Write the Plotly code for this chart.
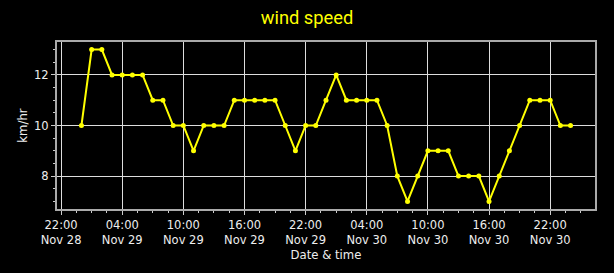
import plotly.graph_objects as go
import pandas as pd

start_time = "2023-11-29 00:00"
n_hours = 49
wind_kmh = [10, 13, 13, 12, 12, 12, 12, 11, 11, 10, 10, 9, 10, 10, 10, 11, 11, 11, 11, 11, 10, 9, 10, 10,
            11, 12, 11, 11, 11, 11, 10, 8, 7, 8, 9, 9, 9, 8, 8, 8, 7, 8, 9, 10, 11, 11, 11, 10, 10]
times = pd.date_range(start_time, periods=n_hours, freq="h")

x_range = ["2023-11-28 21:36", "2023-12-01 02:24"]
y_range = [6.7, 13.3]
title_text = "wind speed"
x_title = "Date & time"
y_title = "km/hr"

fig = go.Figure()
fig.add_trace(go.Scatter(
    x=times, y=wind_kmh, mode="lines+markers",
    line=dict(color="#ffff00", width=2),
    marker=dict(color="#ffff00", size=5),
    showlegend=False,
))

tickfont = dict(family="DejaVu Sans", size=11.5, color="#eeeeee")
fig.update_layout(
    width=614, height=273,
    paper_bgcolor="black", plot_bgcolor="black",
    margin=dict(l=57, r=19, t=42, b=64),
    title=dict(text=title_text, x=0.5, xanchor="center", y=0.935, yanchor="middle",
               font=dict(family="Roboto", size=18.3, color="#ffff00")),
)
fig.update_xaxes(
    range=x_range, type="date",
    tick0="2023-11-28 22:00", dtick=6 * 3600 * 1000,
    tickformat="%H:%M<br>%b %d",
    ticks="outside", ticklen=4, tickcolor="#cccccc", tickwidth=1,
    showgrid=True, gridcolor="#dddddd", gridwidth=1,
    showline=True, linecolor="#aaaaaa", linewidth=2, mirror=True,
    zeroline=False, tickfont=tickfont,
    minor=dict(tick0="2023-11-28 22:00", dtick=1.5 * 3600 * 1000, ticks="outside",
               ticklen=2, tickcolor="#cccccc", showgrid=False),
    title=dict(text=x_title, font=dict(family="DejaVu Sans", size=11.7, color="#eeeeee"), standoff=5),
)
fig.update_yaxes(
    range=y_range, tick0=0, dtick=2,
    ticks="outside", ticklen=4, tickcolor="#cccccc", tickwidth=1,
    showgrid=True, gridcolor="#dddddd", gridwidth=1,
    showline=True, linecolor="#aaaaaa", linewidth=2, mirror=True,
    zeroline=False, tickfont=tickfont,
    minor=dict(tick0=0, dtick=0.5, ticks="outside", ticklen=2, tickcolor="#cccccc", showgrid=False),
    title=dict(text=y_title, font=dict(family="DejaVu Sans", size=11.7, color="#eeeeee"), standoff=4),
)

fig.write_html("out.html")
